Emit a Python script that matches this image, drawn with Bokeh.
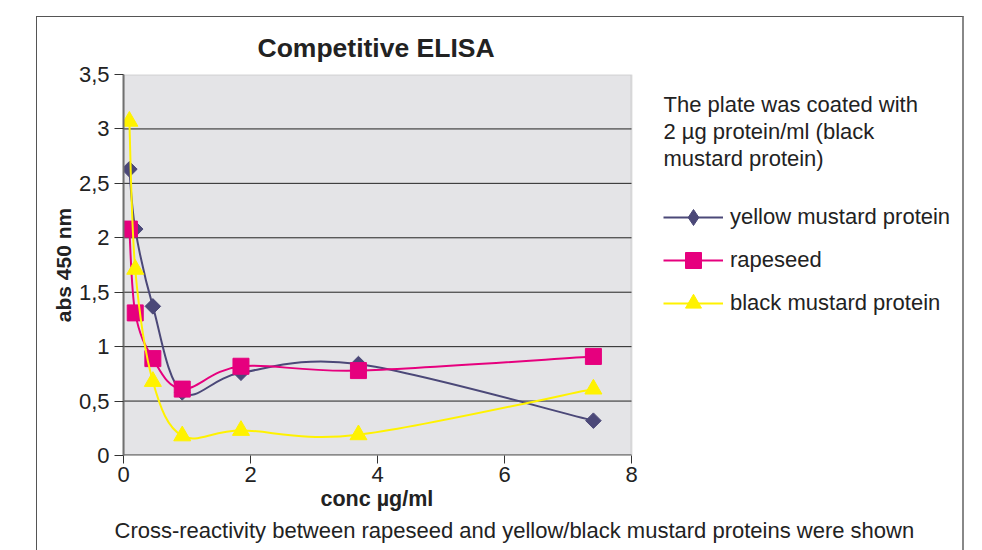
import math
from bokeh.plotting import figure
from bokeh.models import (FixedTicker, CustomJSTickFormatter, Legend, LegendItem, Title, Label,
                          ColumnDataSource, BoxAnnotation)
from bokeh.embed import file_html
from bokeh.resources import INLINE

# ---- data ----
conc = [0.0925, 0.185, 0.4625, 0.925, 1.85, 3.7, 7.4]
yellow_mustard = [2.63, 2.08, 1.37, 0.58, 0.76, 0.84, 0.32]
rapeseed = [2.08, 1.31, 0.89, 0.61, 0.82, 0.78, 0.91]
black_mustard = [3.07, 1.71, 0.68, 0.18, 0.23, 0.19, 0.61]
series_names = ["yellow mustard protein", "rapeseed", "black mustard protein"]
y_ticks = [0, 0.5, 1, 1.5, 2, 2.5, 3, 3.5]
x_ticks = [0, 2, 4, 6, 8]
note_lines = ["The plate was coated with", "2 \u00b5g protein/ml (black", "mustard protein)"]
caption = "Cross-reactivity between rapeseed and yellow/black mustard proteins were shown"

FONT = "Liberation Sans"
TXT = "#222222"

# layout: plot box spans 508 px for x 0..8; the frame continues to the right
PX_PER_X = 508 / 8.0
FRAME_W = 838


def smooth_segments(xs, ys):
    """Catmull-Rom style Bezier control points (Excel-like smoothed line)."""
    n = len(xs)
    out = dict(x0=[], y0=[], x1=[], y1=[], cx0=[], cy0=[], cx1=[], cy1=[])
    for i in range(n - 1):
        xp, yp = (xs[i - 1], ys[i - 1]) if i > 0 else (xs[i], ys[i])
        xn2, yn2 = (xs[i + 2], ys[i + 2]) if i + 2 < n else (xs[i + 1], ys[i + 1])
        out["x0"].append(xs[i]); out["y0"].append(ys[i])
        out["x1"].append(xs[i + 1]); out["y1"].append(ys[i + 1])
        out["cx0"].append(xs[i] + (xs[i + 1] - xp) / 6.0)
        out["cy0"].append(ys[i] + (ys[i + 1] - yp) / 6.0)
        out["cx1"].append(xs[i + 1] - (xn2 - xs[i]) / 6.0)
        out["cy1"].append(ys[i + 1] - (yn2 - ys[i]) / 6.0)
    return out


p = figure(width=928, height=534, x_range=(0, FRAME_W / PX_PER_X), y_range=(0, 3.5),
           output_backend="svg", toolbar_location=None,
           min_border_left=86, min_border_right=928 - 86 - FRAME_W, min_border_top=57,
           min_border_bottom=96,
           background_fill_color="white", border_fill_color="white",
           margin=(16, 0, 0, 36))
p.styles = {"border-left": "1px solid #555", "border-top": "1px solid #555",
            "border-right": "2px solid #888"}
p.outline_line_color = None

p.title.text = "Competitive ELISA"
p.title.align = "left"
p.title.offset = 134
p.title.text_font = FONT
p.title.text_font_size = "26.5px"
p.title.text_font_style = "bold"
p.title.text_color = TXT
p.title.standoff = 23

p.xgrid.visible = False
p.ygrid.visible = False

# grey plot area
p.add_layout(BoxAnnotation(left=x_ticks[0], right=x_ticks[-1], bottom=y_ticks[0], top=y_ticks[-1],
                           fill_color="#e4e4e7", fill_alpha=1, line_color="#9a9a9a",
                           line_width=2, level="underlay"))
# horizontal grid lines inside the plot area
gy = y_ticks[1:-1]
p.segment(x0=[x_ticks[0]] * len(gy), x1=[x_ticks[-1]] * len(gy), y0=gy, y1=gy,
          line_color="#222222", line_width=1)
# x axis line (only under the plot area)
p.segment(x0=[x_ticks[0]], x1=[x_ticks[-1]], y0=[y_ticks[0]], y1=[y_ticks[0]],
          line_color="#707070", line_width=2.5)

fmt = CustomJSTickFormatter(code="return String(tick).replace('.', ',');")
p.yaxis.ticker = FixedTicker(ticks=y_ticks)
p.xaxis.ticker = FixedTicker(ticks=x_ticks)
p.yaxis.formatter = fmt
for ax in (p.xaxis, p.yaxis):
    ax.axis_line_color = "#707070"
    ax.axis_line_width = 2
    ax.major_tick_line_color = "#333333"
    ax.major_tick_in = 0
    ax.minor_tick_line_color = None
    ax.major_label_text_font = FONT
    ax.major_label_text_font_size = "22px"
    ax.major_label_text_color = TXT
    ax.axis_label_text_font = FONT
    ax.axis_label_text_font_size = "21px"
    ax.axis_label_text_font_style = "bold"
    ax.axis_label_text_color = TXT
p.xaxis.axis_line_color = None
p.yaxis.major_tick_out = 9
p.xaxis.major_tick_out = 8
p.yaxis.major_label_standoff = 5
p.xaxis.major_label_standoff = 3
p.yaxis.axis_label = "abs 450 nm"
p.yaxis.axis_label_standoff = 1

xlab = Title(text="conc \u00b5g/ml", align="left", offset=197, text_font=FONT,
             text_font_size="21.5px", text_font_style="bold", text_color=TXT, standoff=0)
p.add_layout(xlab, "below")
cap = Title(text=caption, align="left", offset=-9, text_font=FONT, text_font_size="22px",
            text_font_style="normal", text_color=TXT, standoff=11)
p.add_layout(cap, "below")

specs = [
    (yellow_mustard, "#4b4878", "square", 11, math.pi / 4, "diamond"),
    (rapeseed, "#e6007e", "square", 16, 0, "square"),
    (black_mustard, "#fff200", "triangle", 17, 0, "triangle"),
]
items = []
for (vals, col, mk, sz, ang, legend_mk), name in zip(specs, series_names):
    seg = smooth_segments(conc, vals)
    b = p.bezier(x0="x0", y0="y0", x1="x1", y1="y1", cx0="cx0", cy0="cy0", cx1="cx1", cy1="cy1",
                 source=ColumnDataSource(seg), line_color=col, line_width=2)
    key = None
    if legend_mk != mk:
        # small diamond key, hidden beneath the rotated-square markers
        key = p.scatter(conc, vals, marker=legend_mk, size=6, fill_color=col, line_color=col)
    s = p.scatter(conc, vals, marker=mk, size=sz, angle=ang, fill_color=col, line_color=col)
    items.append(LegendItem(label=name, renderers=[b, key if key is not None else s]))

legend = Legend(items=items, location=(540, 132), border_line_color=None,
                background_fill_alpha=0, padding=0, margin=0, spacing=3,
                glyph_width=60, glyph_height=40, label_height=40, label_standoff=7,
                label_text_font=FONT, label_text_font_size="22px", label_text_color=TXT)
p.add_layout(legend, "center")

note_y0 = 3.223
for i, line in enumerate(note_lines):
    p.add_layout(Label(x=(662 - 122) / PX_PER_X, y=note_y0 - i * 0.248, text=line, text_font=FONT,
                       text_font_size="22px", text_color=TXT, text_baseline="middle",
                       text_align="left"))

open("out.html", "w").write(file_html(p, INLINE))
